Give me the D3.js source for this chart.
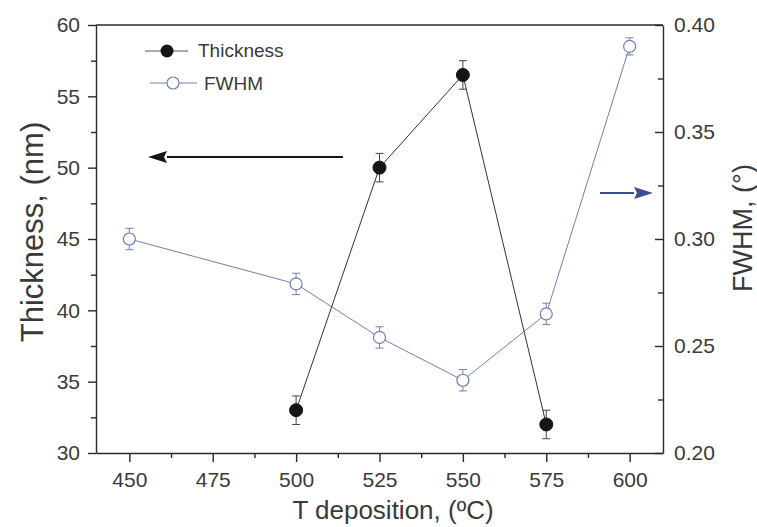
<!DOCTYPE html>
<html>
<head>
<meta charset="utf-8">
<script src="https://cdn.jsdelivr.net/npm/d3@7"></script>
<style>
  html, body { margin: 0; padding: 0; background: #fff; }
  svg { display: block; font-family: "Liberation Sans", Arial, sans-serif; }
</style>
</head>
<body>
<svg id="chart" width="757" height="527"></svg>
<script>
// Deposition temperatures (°C)
const thickTemps = [500, 525, 550, 575];
const thickness = [33.0, 50.0, 56.5, 32.0];
const thickErr = [1.0, 1.0, 1.0, 1.0];

const fwhmTemps = [450, 500, 525, 550, 575, 600];
const fwhm = [0.300, 0.279, 0.254, 0.234, 0.265, 0.390];
const fwhmErr = [0.005, 0.005, 0.005, 0.005, 0.005, 0.004];

const xTicks = [450, 475, 500, 525, 550, 575, 600];
const yLeftTicks = [30, 35, 40, 45, 50, 55, 60];
const yRightTicks = [0.20, 0.25, 0.30, 0.35, 0.40];

const svg = d3.select("#chart");
const M = { left: 96, right: 663, top: 25, bottom: 453 };
const ink = "#2a2a2a";
const blue = "#6f7fb3";
const txt = "#3a3a3a";

const x = d3.scaleLinear().domain([440, 610]).range([M.left, M.right]);
const yL = d3.scaleLinear().domain([30, 60]).range([M.bottom, M.top]);
const yR = d3.scaleLinear().domain([0.20, 0.40]).range([M.bottom, M.top]);

function styleAxis(g) {
  g.selectAll("path, line").attr("stroke", ink).attr("stroke-width", 1.4);
  g.selectAll("text").attr("fill", txt).attr("font-size", 21);
}

// minor ticks
const xMinor = d3.range(462.5, 610, 25);
const yLMinor = d3.range(32.5, 60, 5);
const yRMinor = d3.range(0.225, 0.40, 0.05);

svg.append("g").attr("transform", `translate(0,${M.bottom})`)
  .call(d3.axisBottom(x).tickValues(xMinor).tickSize(5).tickFormat(""))
  .call(g => g.select(".domain").remove()).call(styleAxis);
svg.append("g").attr("transform", `translate(0,${M.bottom})`)
  .call(d3.axisBottom(x).tickValues(xTicks).tickSize(9).tickSizeOuter(0).tickPadding(10).tickFormat(d3.format("d")))
  .call(styleAxis);

svg.append("g").attr("transform", `translate(${M.left},0)`)
  .call(d3.axisLeft(yL).tickValues(yLMinor).tickSize(5).tickFormat(""))
  .call(g => g.select(".domain").remove()).call(styleAxis);
svg.append("g").attr("transform", `translate(${M.left},0)`)
  .call(d3.axisLeft(yL).tickValues(yLeftTicks).tickSize(8).tickSizeOuter(0).tickPadding(8).tickFormat(d3.format("d")))
  .call(styleAxis);

// right axis: ticks point into the plot
svg.append("g").attr("transform", `translate(${M.right},0)`)
  .call(d3.axisRight(yR).tickValues(yRMinor).tickSize(-5).tickFormat(""))
  .call(g => g.select(".domain").remove()).call(styleAxis);
svg.append("g").attr("transform", `translate(${M.right},0)`)
  .call(d3.axisRight(yR).tickValues(yRightTicks).tickSize(-8).tickSizeOuter(0).tickFormat(d3.format(".2f")))
  .call(styleAxis)
  .call(g => g.selectAll("text").attr("x", 11));

// top frame line
svg.append("line").attr("x1", M.left).attr("x2", M.right)
  .attr("y1", M.top).attr("y2", M.top).attr("stroke", ink).attr("stroke-width", 1.4);

// FWHM series
const fData = fwhmTemps.map((t, i) => ({ t, v: fwhm[i], e: fwhmErr[i] }));
svg.append("path").datum(fData)
  .attr("fill", "none").attr("stroke", blue).attr("stroke-width", 1)
  .attr("d", d3.line().x(d => x(d.t)).y(d => yR(d.v)));
const fe = svg.append("g").attr("stroke", blue).attr("stroke-width", 1);
fData.forEach(d => {
  fe.append("line").attr("x1", x(d.t)).attr("x2", x(d.t)).attr("y1", yR(d.v - d.e)).attr("y2", yR(d.v + d.e));
  [d.v - d.e, d.v + d.e].forEach(v => fe.append("line")
    .attr("x1", x(d.t) - 4).attr("x2", x(d.t) + 4).attr("y1", yR(v)).attr("y2", yR(v)));
});
svg.append("g").selectAll("circle").data(fData).join("circle")
  .attr("cx", d => x(d.t)).attr("cy", d => yR(d.v)).attr("r", 6)
  .attr("fill", "#fff").attr("stroke", blue).attr("stroke-width", 1.2);

// Thickness series
const tData = thickTemps.map((t, i) => ({ t, v: thickness[i], e: thickErr[i] }));
svg.append("path").datum(tData)
  .attr("fill", "none").attr("stroke", "#333").attr("stroke-width", 1)
  .attr("d", d3.line().x(d => x(d.t)).y(d => yL(d.v)));
const te = svg.append("g").attr("stroke", "#444").attr("stroke-width", 1);
tData.forEach(d => {
  te.append("line").attr("x1", x(d.t)).attr("x2", x(d.t)).attr("y1", yL(d.v - d.e)).attr("y2", yL(d.v + d.e));
  [d.v - d.e, d.v + d.e].forEach(v => te.append("line")
    .attr("x1", x(d.t) - 4).attr("x2", x(d.t) + 4).attr("y1", yL(v)).attr("y2", yL(v)));
});
svg.append("g").selectAll("circle").data(tData).join("circle")
  .attr("cx", d => x(d.t)).attr("cy", d => yL(d.v)).attr("r", 6.5)
  .attr("fill", "#151515").attr("stroke", "#151515");

// legend
const lg = svg.append("g");
lg.append("line").attr("x1", 145).attr("x2", 188).attr("y1", 51).attr("y2", 51).attr("stroke", "#555");
lg.append("circle").attr("cx", 167).attr("cy", 51).attr("r", 6.5).attr("fill", "#151515");
lg.append("text").attr("x", 198).attr("y", 57).attr("font-size", 19).attr("fill", txt).text("Thickness");
lg.append("line").attr("x1", 150).attr("x2", 197).attr("y1", 83).attr("y2", 83).attr("stroke", blue);
lg.append("circle").attr("cx", 173).attr("cy", 83).attr("r", 6).attr("fill", "#fff").attr("stroke", blue).attr("stroke-width", 1.2);
lg.append("text").attr("x", 204).attr("y", 90).attr("font-size", 19).attr("fill", txt).text("FWHM");

// arrows pointing to each series' axis
function arrow(x1, x2, yy, color) {
  const dir = Math.sign(x2 - x1);
  const headLen = 19, headHalf = 6;
  const xb = x2 - dir * headLen;
  svg.append("line").attr("x1", x1).attr("x2", xb).attr("y1", yy).attr("y2", yy)
    .attr("stroke", color).attr("stroke-width", 2.2);
  svg.append("path")
    .attr("d", `M${x2},${yy}L${xb},${yy - headHalf}L${xb + dir * 3},${yy}L${xb},${yy + headHalf}Z`)
    .attr("fill", color);
}
arrow(343, 148, 157, "#161616");
arrow(600, 653, 193, "#3b4f8f");

// axis titles
svg.append("text").attr("transform", `translate(43,232) rotate(-90)`)
  .attr("text-anchor", "middle").attr("font-size", 31).attr("fill", txt).text("Thickness, (nm)");
svg.append("text").attr("transform", `translate(752,228) rotate(-90)`)
  .attr("text-anchor", "middle").attr("font-size", 27).attr("fill", txt).text("FWHM, (°)");
svg.append("text").attr("x", 393).attr("y", 519)
  .attr("text-anchor", "middle").attr("font-size", 26).attr("fill", txt).text("T deposition, (ºC)");
</script>
</body>
</html>
